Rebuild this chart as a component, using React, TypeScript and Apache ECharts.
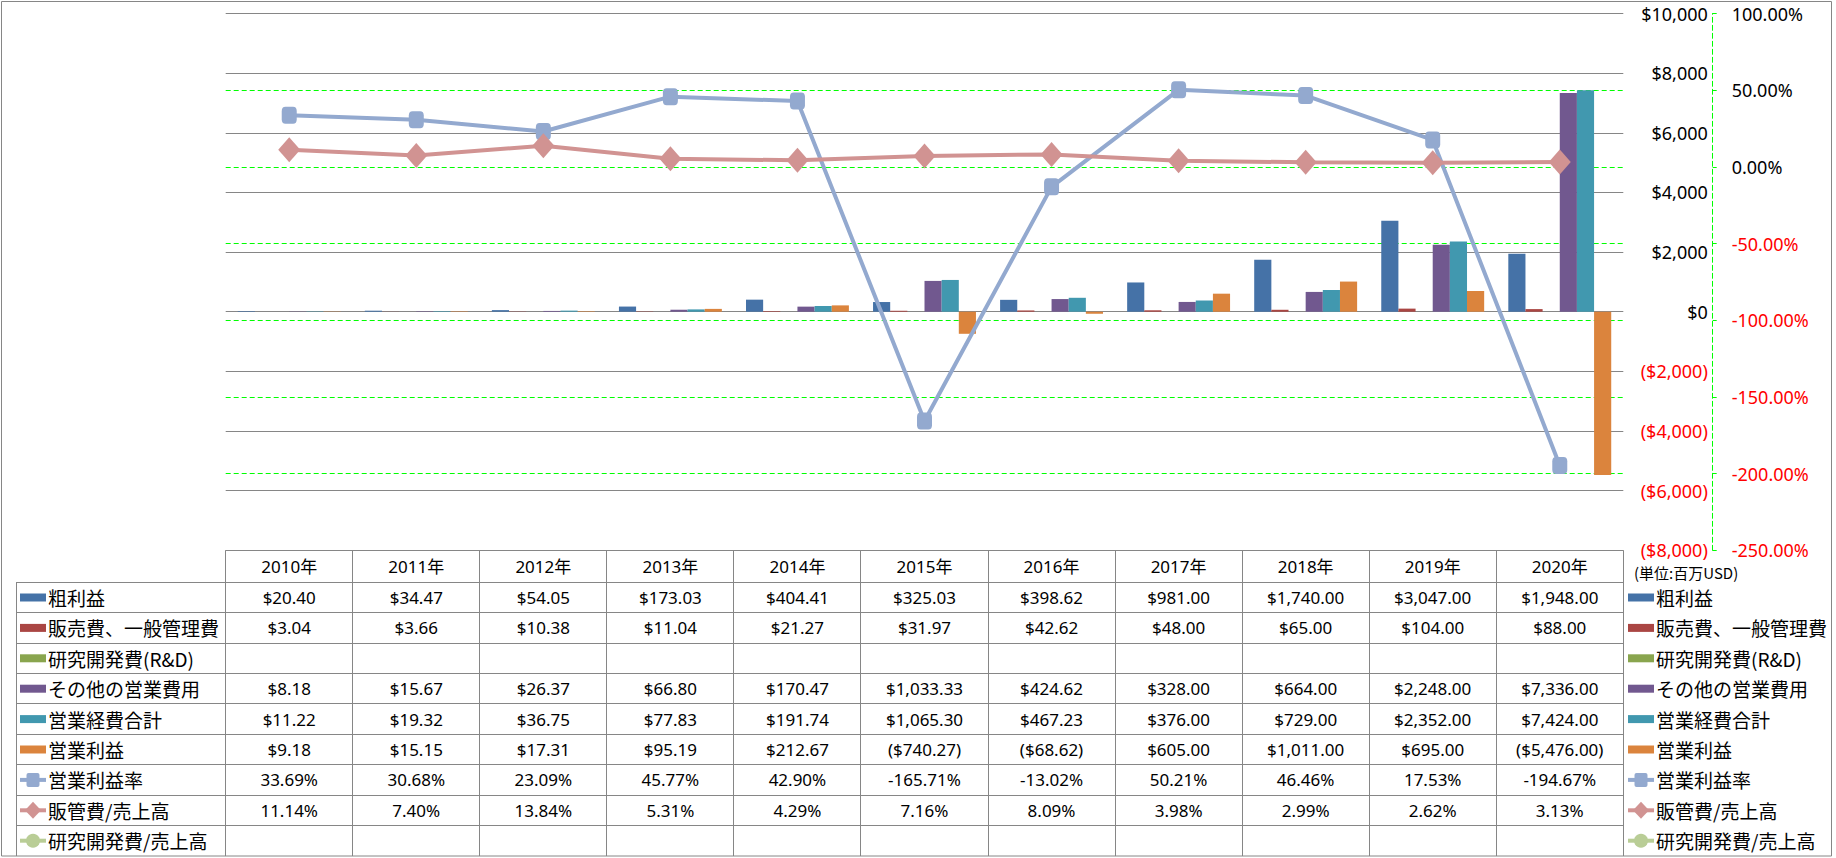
import React, { useEffect, useRef } from "react";
import * as echarts from "echarts";

// ---------------- data ----------------
const years = ["2010年", "2011年", "2012年", "2013年", "2014年", "2015年", "2016年", "2017年", "2018年", "2019年", "2020年"];
const grossProfit = [20.4, 34.47, 54.05, 173.03, 404.41, 325.03, 398.62, 981.0, 1740.0, 3047.0, 1948.0];
const sgaExpense = [3.04, 3.66, 10.38, 11.04, 21.27, 31.97, 42.62, 48.0, 65.0, 104.0, 88.0];
const rndExpense: (number | null)[] = [null, null, null, null, null, null, null, null, null, null, null];
const otherOpex = [8.18, 15.67, 26.37, 66.8, 170.47, 1033.33, 424.62, 328.0, 664.0, 2248.0, 7336.0];
const totalOpex = [11.22, 19.32, 36.75, 77.83, 191.74, 1065.3, 467.23, 376.0, 729.0, 2352.0, 7424.0];
const opIncome = [9.18, 15.15, 17.31, 95.19, 212.67, -740.27, -68.62, 605.0, 1011.0, 695.0, -5476.0];
const opMargin = [33.69, 30.68, 23.09, 45.77, 42.9, -165.71, -13.02, 50.21, 46.46, 17.53, -194.67];
const sgaRatio = [11.14, 7.4, 13.84, 5.31, 4.29, 7.16, 8.09, 3.98, 2.99, 2.62, 3.13];
const rndRatio: (number | null)[] = [null, null, null, null, null, null, null, null, null, null, null];

const usdAxis = { min: -8000, max: 10000, interval: 2000 };
const pctAxis = { min: -250, max: 100, interval: 50 };
const unitLabel = "(単位:百万USD)";

// ---------------- formatting ----------------
const fmtUsd = (v: number, dec: number) => {
  const s = Math.abs(v).toLocaleString("en-US", { minimumFractionDigits: dec, maximumFractionDigits: dec });
  return v < 0 ? `($${s})` : `$${s}`;
};
const fmtPct = (v: number) => `${v.toFixed(2)}%`;

type Row = {
  name: string;
  kind: "bar" | "line";
  symbol?: "square" | "diamond" | "circle";
  color: string;
  values: (number | null)[];
  fmt: (v: number) => string;
  axis: number;
};

const rows: Row[] = [
  { name: "粗利益", kind: "bar", color: "#4572A7", values: grossProfit, fmt: (v) => fmtUsd(v, 2), axis: 0 },
  { name: "販売費、一般管理費", kind: "bar", color: "#AA4643", values: sgaExpense, fmt: (v) => fmtUsd(v, 2), axis: 0 },
  { name: "研究開発費(R&D)", kind: "bar", color: "#89A54E", values: rndExpense, fmt: (v) => fmtUsd(v, 2), axis: 0 },
  { name: "その他の営業費用", kind: "bar", color: "#71588F", values: otherOpex, fmt: (v) => fmtUsd(v, 2), axis: 0 },
  { name: "営業経費合計", kind: "bar", color: "#4198AF", values: totalOpex, fmt: (v) => fmtUsd(v, 2), axis: 0 },
  { name: "営業利益", kind: "bar", color: "#DB843D", values: opIncome, fmt: (v) => fmtUsd(v, 2), axis: 0 },
  { name: "営業利益率", kind: "line", symbol: "square", color: "#93A9CF", values: opMargin, fmt: fmtPct, axis: 1 },
  { name: "販管費/売上高", kind: "line", symbol: "diamond", color: "#D19392", values: sgaRatio, fmt: fmtPct, axis: 1 },
  { name: "研究開発費/売上高", kind: "line", symbol: "circle", color: "#B9CD96", values: rndRatio, fmt: fmtPct, axis: 1 },
];

// ---------------- layout ----------------
const W = 1836;
const H = 858;
const GRID_L = 225.7;
const GRID_R = 1623.3;
const GRID_T = 13.5;
const GRID_B = 550.3;
const CW = (GRID_R - GRID_L) / years.length;
const ROW_TOP = 582.3;
const ROW_H = 30.4;
const TABLE_BOTTOM = 856;
const LABEL_COL_X = 16;
const GRAY = "#868686";
const GREEN = "#00FF00";
const NUM_FONT = "'Noto Sans', 'Noto Sans CJK JP', sans-serif";
const CJK_FONT = "'Noto Sans CJK JP', 'Noto Sans', sans-serif";

const crisp = (v: number) => Math.round(v) + 0.5;

function keyElements(row: Row, x: number, yc: number): any[] {
  const els: any[] = [];
  if (row.kind === "bar") {
    els.push({ type: "rect", silent: true, shape: { x, y: yc - 4, width: 26, height: 8 }, style: { fill: row.color } });
  } else {
    els.push({ type: "line", silent: true, shape: { x1: x, y1: yc, x2: x + 26, y2: yc }, style: { stroke: row.color, lineWidth: 4 } });
    const cx = x + 13;
    if (row.symbol === "square") {
      els.push({ type: "rect", silent: true, shape: { x: cx - 6.5, y: yc - 7, width: 13, height: 14, r: 2 }, style: { fill: row.color } });
    } else if (row.symbol === "diamond") {
      els.push({ type: "polygon", silent: true, shape: { points: [[cx, yc - 8.5], [cx + 8, yc], [cx, yc + 8.5], [cx - 8, yc]] }, style: { fill: row.color } });
    } else {
      els.push({ type: "circle", silent: true, shape: { cx, cy: yc, r: 7 }, style: { fill: row.color } });
    }
  }
  return els;
}

function text(t: string, x: number, y: number, size: number, family: string, align: string, fill = "#000"): any {
  return {
    type: "text",
    silent: true,
    style: {
      text: t,
      x,
      y,
      fill,
      fontSize: size,
      fontFamily: family,
      align,
      textAlign: align,
      verticalAlign: "middle",
      textVerticalAlign: "middle",
    },
  };
}

function buildGraphic(): any[] {
  const els: any[] = [];
  // outer border
  els.push({ type: "rect", silent: true, shape: { x: 1.5, y: 1.5, width: 1830, height: 854.5 }, style: { fill: "none", stroke: GRAY, lineWidth: 1 } });
  // table top line
  els.push({ type: "line", silent: true, shape: { x1: GRID_L, y1: crisp(GRID_B - 0.5), x2: GRID_R, y2: crisp(GRID_B - 0.5) }, style: { stroke: GRAY, lineWidth: 1 } });
  // vertical column lines
  for (let k = 0; k <= years.length; k++) {
    const x = crisp(GRID_L + k * CW - 0.5);
    els.push({ type: "line", silent: true, shape: { x1: x, y1: GRID_B, x2: x, y2: TABLE_BOTTOM }, style: { stroke: GRAY, lineWidth: 1 } });
  }
  // left label column line
  els.push({ type: "line", silent: true, shape: { x1: crisp(LABEL_COL_X), y1: ROW_TOP, x2: crisp(LABEL_COL_X), y2: TABLE_BOTTOM }, style: { stroke: GRAY, lineWidth: 1 } });
  // horizontal row lines
  for (let r = 0; r < rows.length; r++) {
    const y = crisp(ROW_TOP + r * ROW_H - 0.5);
    els.push({ type: "line", silent: true, shape: { x1: LABEL_COL_X, y1: y, x2: GRID_R, y2: y }, style: { stroke: GRAY, lineWidth: 1 } });
  }
  // header
  years.forEach((yr, k) => {
    els.push(text(yr, GRID_L + (k + 0.5) * CW, (GRID_B + ROW_TOP) / 2, 17, NUM_FONT, "center"));
  });
  // unit label
  els.push(text(unitLabel, 1634, 572, 15, CJK_FONT, "left"));
  // rows
  rows.forEach((row, r) => {
    const yc = ROW_TOP + (r + 0.5) * ROW_H;
    els.push(...keyElements(row, 20, yc));
    els.push(text(row.name, 48, yc, 19, CJK_FONT, "left"));
    els.push(...keyElements(row, 1628, yc));
    els.push(text(row.name, 1656, yc, 19, CJK_FONT, "left"));
    row.values.forEach((v, k) => {
      if (v === null || v === undefined) return;
      els.push(text(row.fmt(v), GRID_L + (k + 0.5) * CW, yc, 17, NUM_FONT, "center"));
    });
  });
  return els;
}

function buildSeries(): any[] {
  return rows.map((row) => {
    if (row.kind === "bar") {
      return {
        name: row.name,
        type: "bar",
        yAxisIndex: 0,
        data: row.values,
        barGap: "0%",
        barCategoryGap: "19%",
        itemStyle: { color: row.color },
      };
    }
    const symbol = row.symbol === "square" ? "roundRect" : row.symbol === "diamond" ? "diamond" : "circle";
    const size = row.symbol === "square" ? [15, 17] : row.symbol === "diamond" ? [22, 25] : 15;
    return {
      name: row.name,
      type: "line",
      yAxisIndex: 1,
      data: row.values,
      symbol,
      symbolSize: size,
      showAllSymbol: true,
      lineStyle: { color: row.color, width: 4 },
      itemStyle: { color: row.color },
      z: 3,
    };
  });
}

export default function App() {
  const ref = useRef<HTMLDivElement>(null);
  useEffect(() => {
    document.body.style.margin = "0";
    if (!ref.current) return;
    const chart = echarts.init(ref.current, undefined, { renderer: "svg" });
    const option: any = {
      animation: false,
      backgroundColor: "#fff",
      grid: { left: GRID_L, top: GRID_T, width: GRID_R - GRID_L, height: GRID_B - GRID_T, containLabel: false },
      xAxis: {
        type: "category",
        data: years,
        axisLine: { show: false },
        axisTick: { show: false },
        axisLabel: { show: false },
        splitLine: { show: false },
      },
      yAxis: [
        {
          type: "value",
          position: "right",
          min: usdAxis.min,
          max: usdAxis.max,
          interval: usdAxis.interval,
          axisLine: { show: false },
          axisTick: { show: false },
          splitLine: { show: true, lineStyle: { color: GRAY, width: 1 } },
          axisLabel: {
            margin: 84.5,
            align: "right",
            fontSize: 18,
            fontFamily: NUM_FONT,
            color: (v: any) => (Number(v) < 0 ? "#FF0000" : "#000000"),
            formatter: (v: number) => fmtUsd(v, 0),
          },
        },
        {
          type: "value",
          position: "right",
          offset: 89.4,
          min: pctAxis.min,
          max: pctAxis.max,
          interval: pctAxis.interval,
          axisLine: { show: true, lineStyle: { color: GREEN, width: 1, type: [5, 3] } },
          axisTick: { show: true, length: 4, lineStyle: { color: GREEN, width: 1 } },
          splitLine: { show: true, showMinLine: false, showMaxLine: false, lineStyle: { color: GREEN, width: 1, type: [5, 3] } },
          axisLabel: {
            margin: 19,
            fontSize: 18,
            fontFamily: NUM_FONT,
            color: (v: any) => (Number(v) < 0 ? "#FF0000" : "#000000"),
            formatter: (v: number) => fmtPct(v),
          },
        },
      ],
      series: buildSeries(),
      graphic: { elements: buildGraphic() },
    };
    chart.setOption(option);
    return () => chart.dispose();
  }, []);
  return <div ref={ref} style={{ width: W, height: H }} />;
}
